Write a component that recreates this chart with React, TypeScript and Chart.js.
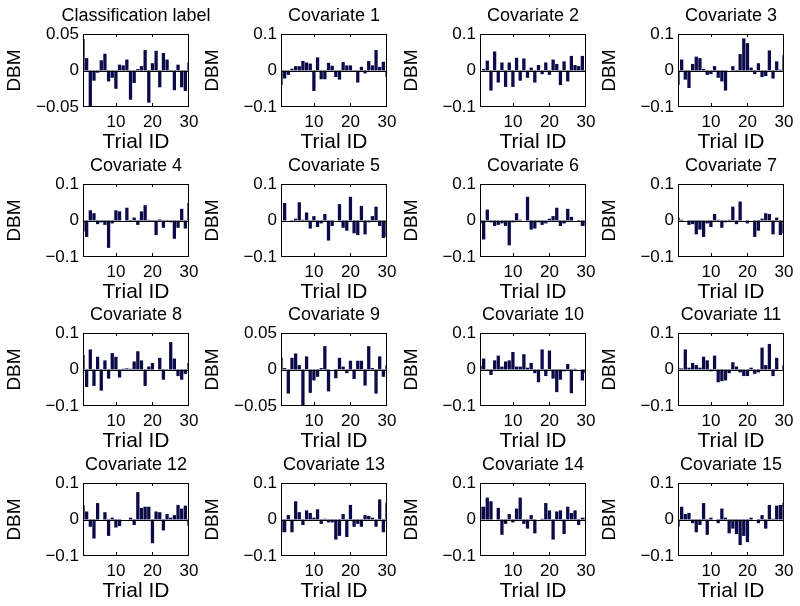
import React, { useEffect, useRef } from "react";
import { Chart, registerables } from "chart.js";

Chart.register(...registerables);

// ---------- data ----------
const trialIds = [1, 2, 3, 4, 5, 6, 7, 8, 9, 10, 11, 12, 13, 14, 15, 16, 17, 18, 19, 20, 21, 22, 23, 24, 25, 26, 27, 28, 29, 30];

const panelTitles = [
  "Classification label",
  "Covariate 1", "Covariate 2", "Covariate 3", "Covariate 4", "Covariate 5",
  "Covariate 6", "Covariate 7", "Covariate 8", "Covariate 9", "Covariate 10",
  "Covariate 11", "Covariate 12", "Covariate 13", "Covariate 14", "Covariate 15",
];

const classificationLabel = [0.043, 0.017, -0.049, -0.014, -0.003, 0.014, 0.023, -0.015, -0.010, -0.025, 0.008, 0.007, 0.015, -0.040, -0.017, 0.002, 0.006, 0.028, -0.044, 0.010, 0.027, -0.023, 0.024, 0.015, -0.002, -0.027, 0.008, -0.023, -0.028, 0.011];
const covariate1 = [-0.040, -0.022, -0.012, 0.005, 0.012, 0.012, 0.026, 0.022, 0.019, -0.056, 0.036, -0.024, -0.024, 0.021, 0.013, -0.018, -0.025, 0.023, 0.014, 0.014, -0.002, -0.033, 0.010, -0.008, 0.026, 0.014, 0.056, 0.010, 0.024, -0.017];
const covariate2 = [0.000, 0.004, 0.027, -0.055, 0.052, -0.033, 0.022, -0.045, 0.022, -0.045, 0.035, -0.028, 0.033, -0.020, 0.008, -0.033, 0.015, -0.010, 0.022, -0.012, 0.030, 0.018, -0.040, 0.025, -0.030, 0.040, 0.015, 0.012, 0.040, -0.003];
const covariate3 = [-0.040, 0.030, -0.025, -0.048, 0.018, 0.038, 0.034, 0.004, -0.012, -0.010, 0.012, -0.020, -0.030, -0.055, 0.000, 0.012, -0.003, 0.045, 0.088, 0.075, 0.008, -0.010, 0.020, -0.018, -0.015, 0.055, -0.022, 0.025, 0.002, 0.042];
const covariate4 = [-0.030, -0.045, 0.028, 0.020, -0.010, -0.005, -0.012, -0.075, -0.008, 0.028, 0.025, 0.000, 0.035, -0.002, 0.008, -0.012, 0.025, 0.042, 0.002, -0.003, -0.040, 0.003, -0.020, -0.003, -0.005, -0.050, -0.020, 0.032, -0.022, 0.048];
const covariate5 = [0.000, 0.048, 0.000, -0.003, 0.005, 0.050, 0.002, 0.022, -0.022, 0.012, -0.018, -0.008, 0.018, -0.055, -0.015, 0.000, 0.045, -0.020, -0.028, 0.065, -0.035, -0.040, 0.040, -0.038, -0.005, 0.012, 0.038, -0.015, -0.048, -0.045];
const covariate6 = [-0.008, -0.052, 0.030, -0.005, -0.015, -0.012, -0.008, -0.015, -0.068, -0.005, 0.020, 0.002, 0.000, 0.065, -0.025, -0.022, -0.005, -0.012, -0.008, 0.005, 0.012, 0.035, -0.015, -0.008, 0.032, 0.010, 0.000, -0.002, -0.015, -0.015];
const covariate7 = [0.008, 0.002, 0.000, -0.012, -0.010, -0.038, -0.025, -0.045, -0.008, -0.018, 0.018, 0.002, -0.020, -0.005, 0.002, 0.038, -0.010, 0.052, 0.000, -0.008, 0.000, -0.045, -0.028, 0.005, 0.020, 0.018, -0.038, 0.008, -0.040, -0.035];
const covariate8 = [0.040, -0.048, 0.055, -0.045, 0.035, -0.058, 0.025, -0.025, 0.045, 0.035, -0.022, 0.002, 0.003, 0.002, 0.022, 0.050, 0.025, -0.045, 0.008, 0.018, 0.000, 0.032, -0.028, -0.003, 0.075, 0.030, -0.018, -0.028, -0.012, 0.018];
const covariate9 = [0.016, 0.002, -0.033, 0.016, 0.022, 0.006, -0.050, 0.018, -0.032, -0.015, -0.010, 0.002, 0.032, -0.030, 0.000, -0.012, 0.016, 0.004, -0.005, 0.012, -0.013, 0.012, 0.012, -0.022, 0.032, 0.002, -0.033, 0.018, -0.010, 0.006];
const covariate10 = [0.010, 0.030, -0.003, -0.015, 0.025, 0.038, 0.008, 0.022, 0.025, 0.048, 0.008, 0.008, 0.042, 0.005, 0.018, -0.010, -0.035, 0.055, -0.018, 0.052, -0.025, -0.062, -0.028, -0.005, 0.015, -0.065, 0.002, 0.000, -0.030, -0.010];
const covariate11 = [0.005, 0.003, 0.055, 0.005, 0.018, 0.012, 0.005, 0.035, 0.025, -0.005, 0.038, -0.035, -0.032, -0.030, -0.010, 0.020, 0.008, -0.008, -0.018, -0.018, 0.005, -0.012, -0.008, 0.060, 0.012, 0.070, -0.018, 0.032, 0.000, 0.012];
const covariate12 = [0.040, 0.022, -0.020, -0.052, 0.045, 0.000, 0.020, -0.045, 0.005, -0.022, -0.018, 0.000, 0.000, 0.005, -0.015, 0.075, 0.032, 0.035, 0.035, -0.065, 0.022, 0.020, -0.030, 0.015, 0.005, 0.012, 0.040, 0.030, 0.038, -0.018];
const covariate13 = [-0.035, -0.035, 0.012, -0.035, 0.050, 0.020, -0.015, 0.025, 0.018, 0.005, 0.028, -0.012, 0.002, -0.008, -0.008, -0.055, -0.045, 0.015, -0.048, 0.040, -0.020, -0.012, -0.020, 0.012, 0.010, 0.005, -0.020, 0.055, -0.035, 0.045];
const covariate14 = [0.035, 0.035, 0.060, 0.050, 0.000, 0.032, -0.042, -0.012, 0.015, -0.008, 0.030, 0.060, -0.012, -0.025, 0.012, -0.038, 0.000, 0.002, 0.045, 0.025, -0.055, 0.022, 0.025, -0.040, 0.035, 0.018, 0.025, -0.015, 0.005, 0.005];
const covariate15 = [-0.020, 0.035, 0.015, 0.018, -0.010, -0.035, -0.015, 0.045, -0.042, 0.005, 0.000, -0.010, 0.030, 0.005, -0.038, -0.025, -0.040, -0.070, -0.045, -0.062, 0.005, 0.000, -0.010, 0.012, -0.025, 0.040, 0.002, 0.038, 0.040, 0.045];

const panelValues = [
  classificationLabel, covariate1, covariate2, covariate3, covariate4, covariate5,
  covariate6, covariate7, covariate8, covariate9, covariate10, covariate11,
  covariate12, covariate13, covariate14, covariate15,
];

// y-axis half range per panel
const panelLimits = [0.05, 0.1, 0.1, 0.1, 0.1, 0.1, 0.1, 0.1, 0.1, 0.05, 0.1, 0.1, 0.1, 0.1, 0.1, 0.1];

const xTickValues = [10, 20, 30];
const yTickLabelsWide = ["\u22120.1", "0", "0.1"];
const yTickLabelsNarrow = ["\u22120.05", "0", "0.05"];
const xAxisTitle = "Trial ID";
const yAxisTitle = "DBM";

// ---------- layout / style ----------
const FONT = "'Liberation Sans', Arial, Helvetica, sans-serif";
const BAR_COLOR = "#0b0b4a";
const COL_LEFTS = [0, 198, 397, 595];
const ROW_TOPS = [0, 150, 299, 449];
const PLOT_LEFT = 83;
const PLOT_W = 106;
const CANVAS_W = PLOT_LEFT * 2 + PLOT_W; // symmetric so the title centres over the plot
const CANVAS_H = 156;
const PLOT_TOP = 34;
const PLOT_BOTTOM = 107;
const X_AXIS_H = CANVAS_H - PLOT_BOTTOM;

const matlabAxesPlugin = {
  id: "matlabAxes",
  afterDatasetsDraw(chart: any) {
    const { ctx, chartArea: a, scales } = chart;
    const xs = scales.x;
    const ys = scales.y;
    const L = Math.round(a.left);
    const R = Math.round(a.right) - 1;
    const T = Math.round(a.top);
    const B = Math.round(a.bottom) - 1;
    ctx.save();
    ctx.fillStyle = "#000";
    // zero baseline
    const y0 = Math.round(ys.getPixelForValue(0));
    ctx.fillRect(L, y0, R - L + 1, 1);
    // box
    ctx.fillRect(L, T, R - L + 1, 1);
    ctx.fillRect(L, B, R - L + 1, 1);
    ctx.fillRect(L, T, 1, B - T + 1);
    ctx.fillRect(R, T, 1, B - T + 1);
    // inward tick marks
    const tl = 3;
    for (const t of xs.ticks) {
      const px = Math.min(R, Math.round(xs.getPixelForValue(t.value)));
      ctx.fillRect(px, B - tl, 1, tl);
      ctx.fillRect(px, T, 1, tl);
    }
    for (const t of ys.ticks) {
      const py = Math.min(B, Math.round(ys.getPixelForValue(t.value)));
      ctx.fillRect(L, py, tl, 1);
      ctx.fillRect(R - tl + 1, py, tl, 1);
    }
    ctx.restore();
  },
};

function Panel({ index }: { index: number }) {
  const ref = useRef<HTMLCanvasElement | null>(null);
  const row = Math.floor(index / 4);
  const col = index % 4;

  useEffect(() => {
    if (!ref.current) return;
    const values = panelValues[index];
    const lim = panelLimits[index];
    const yLabels = lim < 0.1 ? yTickLabelsNarrow : yTickLabelsWide;
    const chart = new Chart(ref.current, {
      type: "bar",
      data: {
        datasets: [
          {
            data: values.map((v, i) => ({ x: trialIds[i], y: v })),
            backgroundColor: BAR_COLOR,
            borderWidth: 0,
            categoryPercentage: 1,
            barPercentage: 0.9,
            clip: 0,
            xAxisID: "x",
            yAxisID: "y",
          } as any,
        ],
      },
      options: {
        animation: false,
        responsive: false,
        devicePixelRatio: 1,
        events: [],
        layout: { padding: 0 },
        plugins: {
          legend: { display: false },
          tooltip: { enabled: false },
          title: {
            display: true,
            text: panelTitles[index],
            color: "#000",
            font: { family: FONT, size: 18, weight: "normal", lineHeight: 1.2 },
            padding: { top: 5.5, bottom: PLOT_TOP - 5.5 - 21.6 },
          },
        },
        scales: {
          x: {
            type: "linear",
            min: 1,
            max: 30,
            offset: false,
            grid: { display: false, drawTicks: false, offset: false },
            border: { display: false },
            afterBuildTicks: (s: any) => {
              s.ticks = xTickValues.map((v) => ({ value: v }));
            },
            afterFit: (s: any) => {
              s.height = X_AXIS_H;
            },
            ticks: {
              color: "#000",
              font: { family: FONT, size: 17 },
              padding: 5,
              maxRotation: 0,
              autoSkip: false,
              callback: (v: any) => String(v),
            },
            title: {
              display: true,
              text: xAxisTitle,
              color: "#000",
              font: { family: FONT, size: 21, lineHeight: 1 },
              padding: { top: 0, bottom: 3 },
            },
          },
          y: {
            type: "linear",
            position: "left",
            min: -lim,
            max: lim,
            grid: { display: false, drawTicks: false },
            border: { display: false },
            afterBuildTicks: (s: any) => {
              s.ticks = [-lim, 0, lim].map((v) => ({ value: v }));
            },
            afterFit: (s: any) => {
              s.width = PLOT_LEFT;
            },
            ticks: {
              color: "#000",
              font: { family: FONT, size: 17 },
              padding: 4,
              autoSkip: false,
              callback: (_v: any, i: number) => yLabels[i],
            },
            title: {
              display: true,
              text: yAxisTitle,
              color: "#000",
              font: { family: FONT, size: 19, lineHeight: 1 },
              padding: { top: 5.5, bottom: 0 },
            },
          },
          // empty spacer on the right, keeps the plot where the reference has it
          spacer: {
            type: "linear",
            position: "right",
            display: true,
            grid: { display: false, drawTicks: false },
            border: { display: false },
            ticks: { display: false },
            afterFit: (s: any) => {
              s.width = PLOT_LEFT;
            },
          },
        },
      } as any,
      plugins: [matlabAxesPlugin],
    });
    return () => chart.destroy();
  }, [index]);

  return (
    <canvas
      ref={ref}
      width={CANVAS_W}
      height={CANVAS_H}
      style={{
        position: "absolute",
        left: COL_LEFTS[col],
        top: ROW_TOPS[row],
        width: CANVAS_W,
        height: CANVAS_H,
      }}
    />
  );
}

export default function App() {
  return (
    <div
      style={{
        position: "absolute",
        left: 0,
        top: 0,
        width: 800,
        height: 606,
        overflow: "hidden",
        background: "#fff",
      }}
    >
      {panelTitles.map((_, i) => (
        <Panel key={i} index={i} />
      ))}
    </div>
  );
}
